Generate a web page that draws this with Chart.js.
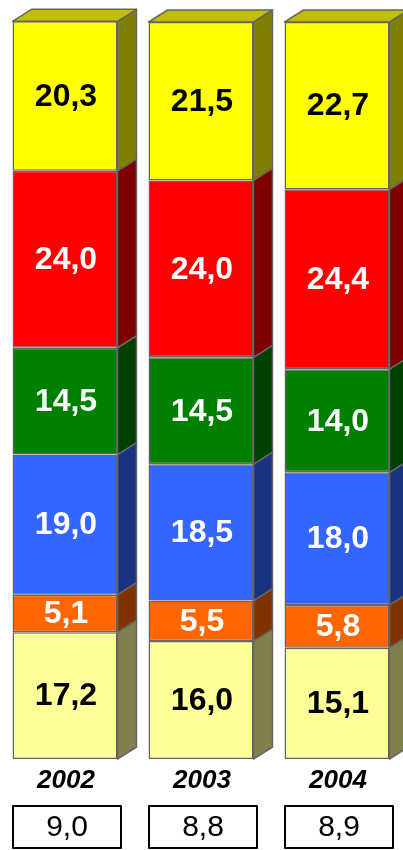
<!DOCTYPE html>
<html>
<head>
<meta charset="utf-8">
<script src="https://cdn.jsdelivr.net/npm/chart.js@4"></script>
<style>
  html, body { margin: 0; padding: 0; background: #fff; overflow: hidden; }
  #wrap { position: relative; width: 403px; height: 850px; overflow: hidden; }
  #chart { position: absolute; left: -3px; top: 0; }
</style>
</head>
<body>
<div id="wrap"><canvas id="chart" width="408" height="850"></canvas></div>
<script>
// Years and the six stacked shares (bottom to top)
const years = ['2002', '2003', '2004'];
const segPaleYellow = [17.2, 16.0, 15.1];
const segOrange = [5.1, 5.5, 5.8];
const segBlue = [19.0, 18.5, 18.0];
const segGreen = [14.5, 14.5, 14.0];
const segRed = [24.0, 24.0, 24.4];
const segYellow = [20.3, 21.5, 22.7];
// values in the boxes under each year
const boxValues = ['9,0', '8,8', '8,9'];

const seriesList = [segPaleYellow, segOrange, segBlue, segGreen, segRed, segYellow];
const frontColors = ['#FFFF99', '#FF6600', '#3366FF', '#008000', '#FF0000', '#FFFF00'];
const sideColors = ['#80804D', '#803300', '#1A3380', '#004000', '#800000', '#808000'];
const labelColors = ['#000', '#fff', '#fff', '#fff', '#fff', '#000'];
const topColor = '#C0C000';

const DX = 19, DY = 12;   // 3D depth offset
const edge = '#666666';

function fmt(v) {
    return v.toFixed(1).replace('.', ',');
}

// draws the side faces, the top face, the values and the year boxes
const depthPlugin = {
    id: 'depth',
    afterDatasetsDraw(chart) {
        const ctx = chart.ctx;
        const n = chart.data.datasets.length;
        ctx.save();
        ctx.lineWidth = 1.5;
        ctx.strokeStyle = edge;
        ctx.lineJoin = 'round';
        for (let d = 0; d < n; d++) {
            const meta = chart.getDatasetMeta(d);
            meta.data.forEach((bar) => {
                const right = bar.x + bar.width / 2;
                const left = bar.x - bar.width / 2;
                const top = bar.y, bottom = bar.base;
                // side
                ctx.beginPath();
                ctx.moveTo(right, top);
                ctx.lineTo(right + DX, top - DY);
                ctx.lineTo(right + DX, bottom - DY);
                ctx.lineTo(right, bottom);
                ctx.closePath();
                ctx.fillStyle = sideColors[d];
                ctx.fill();
                ctx.stroke();
                // top face on the last segment
                if (d === n - 1) {
                    ctx.beginPath();
                    ctx.moveTo(left, top);
                    ctx.lineTo(left + DX, top - DY);
                    ctx.lineTo(right + DX, top - DY);
                    ctx.lineTo(right, top);
                    ctx.closePath();
                    ctx.fillStyle = topColor;
                    ctx.fill();
                    ctx.stroke();
                }
            });
        }
        // values
        ctx.textAlign = 'center';
        ctx.textBaseline = 'middle';
        ctx.font = 'bold 32px "Liberation Sans", Arial, sans-serif';
        for (let d = 0; d < n; d++) {
            const meta = chart.getDatasetMeta(d);
            meta.data.forEach((bar, i) => {
                ctx.fillStyle = labelColors[d];
                ctx.fillText(fmt(chart.data.datasets[d].data[i]), bar.x + 1, (bar.y + bar.base) / 2 + 1);
            });
        }
        // year labels and boxes
        const xs = chart.scales.x;
        years.forEach((y, i) => {
            const cx = xs.getPixelForValue(i);
            ctx.fillStyle = '#000';
            ctx.font = 'italic bold 26px "Liberation Sans", Arial, sans-serif';
            ctx.fillText(y, cx + 1, 781);
            ctx.lineWidth = 2;
            ctx.strokeStyle = '#000';
            ctx.strokeRect(cx - 52, 806, 108, 42);
            ctx.font = '30px "Liberation Sans", Arial, sans-serif';
            ctx.fillText(boxValues[i], cx + 2, 828);
        });
        ctx.restore();
    }
};

const datasets = seriesList.map((vals, k) => ({
    data: vals,
    backgroundColor: frontColors[k],
    borderColor: edge,
    borderWidth: 1.5,
    borderSkipped: false,
    barPercentage: 1,
    categoryPercentage: 105 / 136
}));

new Chart(document.getElementById('chart'), {
    type: 'bar',
    data: { labels: years, datasets: datasets },
    options: {
        responsive: false,
        animation: false,
        events: [],
        layout: { padding: { left: 0, right: 0, top: 22, bottom: 91 } },
        plugins: { legend: { display: false }, tooltip: { enabled: false } },
        scales: {
            x: { stacked: true, display: false },
            y: { stacked: true, display: false, min: 0, max: 100 }
        }
    },
    plugins: [depthPlugin]
});
</script>
</body>
</html>
